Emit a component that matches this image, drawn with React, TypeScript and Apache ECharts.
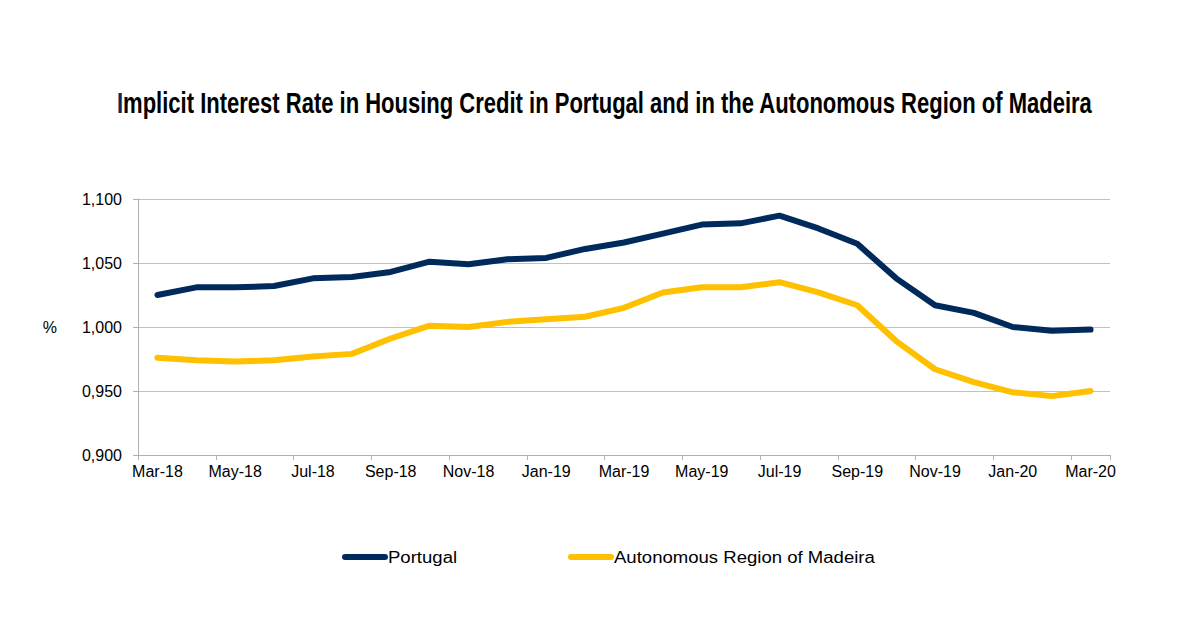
import React, { useEffect, useRef } from "react";
import * as echarts from "echarts";

const months = [
  "Mar-18", "Apr-18", "May-18", "Jun-18", "Jul-18", "Aug-18", "Sep-18", "Oct-18",
  "Nov-18", "Dec-18", "Jan-19", "Feb-19", "Mar-19", "Apr-19", "May-19", "Jun-19",
  "Jul-19", "Aug-19", "Sep-19", "Oct-19", "Nov-19", "Dec-19", "Jan-20", "Feb-20", "Mar-20",
];

const portugal = [
  1.025, 1.031, 1.031, 1.032, 1.038, 1.039, 1.043, 1.051,
  1.049, 1.053, 1.054, 1.061, 1.066, 1.073, 1.080, 1.081,
  1.087, 1.077, 1.065, 1.038, 1.017, 1.011, 1.000, 0.997, 0.998,
];

const madeira = [
  0.976, 0.974, 0.973, 0.974, 0.977, 0.979, 0.991, 1.001,
  1.000, 1.004, 1.006, 1.008, 1.015, 1.027, 1.031, 1.031,
  1.035, 1.027, 1.017, 0.989, 0.967, 0.957, 0.949, 0.946, 0.950,
];

const seriesNames = ["Portugal", "Autonomous Region of Madeira"];
const titleHead = "I";
const titleRest = "mplicit Interest Rate in Housing Credit in Portugal and in the Autonomous Region of Madeira";

const NAVY = "#002a5c";
const GOLD = "#ffc000";
const FONT = "Arial, 'Liberation Sans', sans-serif";
const TITLE_FONT = "bold 30px 'Liberation Sans', Arial, sans-serif";

function measure(text: string, font: string): number {
  const ctx = document.createElement("canvas").getContext("2d");
  if (!ctx) return text.length * 14;
  ctx.font = font;
  return ctx.measureText(text).width;
}

export default function App() {
  const ref = useRef<HTMLDivElement>(null);

  useEffect(() => {
    if (!ref.current) return;
    const chart = echarts.init(ref.current, undefined, { renderer: "svg" });

    // condensed bold title, squeezed horizontally to the heading's span
    const titleLeft = 117;
    const titleSpan = 976;
    const headW = measure(titleHead, TITLE_FONT);
    const fullW = measure(titleHead + titleRest, TITLE_FONT);
    const titleScale = titleSpan / fullW;

    // slightly stretched legend labels
    const legendScale = 1.16;
    const legendFont = "16px Arial, 'Liberation Sans', sans-serif";

    const legendItem = (x: number, color: string, label: string) => ({
      type: "group",
      children: [
        {
          type: "line",
          shape: { x1: x + 3, y1: 557, x2: x + 43, y2: 557 },
          style: { stroke: color, lineWidth: 6, lineCap: "round" },
        },
        {
          type: "text",
          x: x + 46,
          y: 557,
          scaleX: legendScale,
          style: {
            text: label,
            font: legendFont,
            fill: "#000000",
            textAlign: "left",
            textVerticalAlign: "middle",
          },
        },
      ],
    });

    chart.setOption({
      animation: false,
      backgroundColor: "#ffffff",
      graphic: [
        {
          type: "group",
          x: titleLeft,
          y: 103,
          scaleX: titleScale,
          children: [
            {
              type: "text",
              x: 0,
              y: 0,
              style: {
                text: titleHead,
                font: TITLE_FONT,
                fill: NAVY,
                textAlign: "left",
                textVerticalAlign: "middle",
              },
            },
            {
              type: "text",
              x: headW,
              y: 0,
              style: {
                text: titleRest,
                font: TITLE_FONT,
                fill: "#000000",
                textAlign: "left",
                textVerticalAlign: "middle",
              },
            },
          ],
        },
        legendItem(342, NAVY, seriesNames[0]),
        legendItem(568, GOLD, seriesNames[1]),
      ],
      grid: { left: 138, right: 90, top: 199, bottom: 173, containLabel: false },
      xAxis: {
        type: "category",
        data: months,
        boundaryGap: true,
        axisLine: { lineStyle: { color: "#b0b0b0", width: 1 } },
        axisTick: { show: true, interval: 1, length: 5, lineStyle: { color: "#b0b0b0" } },
        axisLabel: { interval: 1, fontFamily: FONT, fontSize: 16, color: "#000000", margin: 8 },
      },
      yAxis: {
        type: "value",
        min: 0.9,
        max: 1.1,
        interval: 0.05,
        name: "%",
        nameLocation: "middle",
        nameRotate: 0,
        nameGap: 81,
        nameTextStyle: { fontFamily: FONT, fontSize: 16, color: "#000000", padding: [9, 0, 0, 0] },
        axisLine: { show: true, lineStyle: { color: "#b0b0b0", width: 1 } },
        axisTick: { show: true, length: 5, lineStyle: { color: "#b0b0b0" } },
        splitLine: { lineStyle: { color: "#c0c0c0", width: 1 } },
        axisLabel: {
          fontFamily: FONT,
          fontSize: 16,
          color: "#000000",
          margin: 16,
          formatter: (v: number) => v.toFixed(3).replace(".", ","),
        },
      },
      series: [
        {
          name: seriesNames[0],
          type: "line",
          data: portugal,
          symbol: "none",
          color: NAVY,
          lineStyle: { color: NAVY, width: 6, cap: "round", join: "round" },
        },
        {
          name: seriesNames[1],
          type: "line",
          data: madeira,
          symbol: "none",
          color: GOLD,
          lineStyle: { color: GOLD, width: 6, cap: "round", join: "round" },
        },
      ],
    });
    return () => chart.dispose();
  }, []);

  return (
    <div
      ref={ref}
      style={{ position: "absolute", left: 0, top: 0, width: 1200, height: 628 }}
    />
  );
}
